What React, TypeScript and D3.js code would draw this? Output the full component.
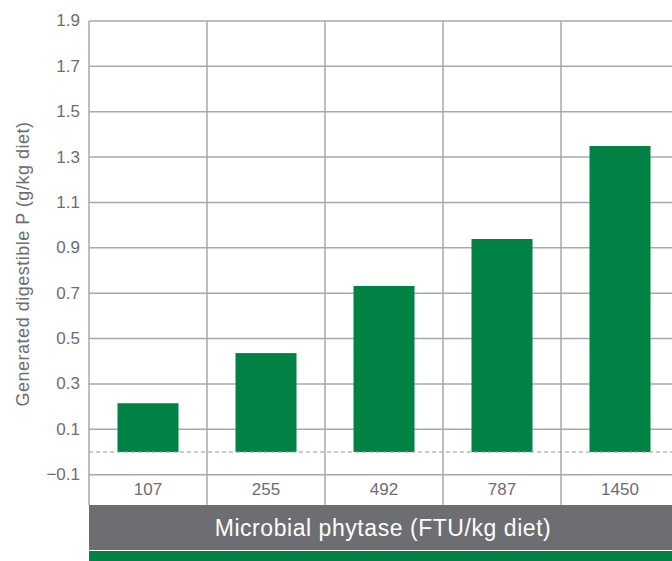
import React from "react";
import * as d3 from "d3";

const categories = ["107", "255", "492", "787", "1450"];
const values = [0.215, 0.436, 0.732, 0.939, 1.349];
const yTicks = [-0.1, 0.1, 0.3, 0.5, 0.7, 0.9, 1.1, 1.3, 1.5, 1.7, 1.9];
const yLabel = "Generated digestible P (g/kg diet)";
const xLabel = "Microbial phytase (FTU/kg diet)";

const W = 672;
const H = 561;
const left = 89;
const top = 21;
const bottom = 474.7;
const cell = 118;
const labelRowBottom = 505;
const grayBottom = 550;

const GREEN = "#008244";
const GRID = "#a7a9ac";
const TEXT = "#6d6e71";
const FONT = "Liberation Sans, Arial, Helvetica, sans-serif";

export default function App() {
  const y = d3.scaleLinear().domain([-0.1, 1.9]).range([bottom, top]);
  const p = 1 - 61 / cell;
  const x = d3
    .scaleBand<string>()
    .domain(categories)
    .range([left, left + cell * categories.length])
    .paddingInner(p)
    .paddingOuter(p / 2);
  const step = x.step();
  const boundaries = d3.range(categories.length + 1).map((i) => left + i * step);
  const fmt = (v: number) => (v < 0 ? "\u2212" + Math.abs(v).toFixed(1) : v.toFixed(1));

  return (
    <svg
      width={W}
      height={H}
      style={{ position: "absolute", left: 0, top: 0, background: "#fff" }}
      fontFamily={FONT}
    >
      {yTicks.map((t) => (
        <line
          key={"h" + t}
          x1={left}
          x2={W + 20}
          y1={y(t)}
          y2={y(t)}
          stroke={GRID}
          strokeWidth={1.5}
        />
      ))}
      {boundaries.map((bx, i) => (
        <line
          key={"v" + i}
          x1={bx}
          x2={bx}
          y1={top}
          y2={labelRowBottom}
          stroke={GRID}
          strokeWidth={1.5}
        />
      ))}
      {categories.map((c, i) => (
        <rect
          key={"b" + c}
          x={x(c)}
          width={x.bandwidth()}
          y={y(values[i])}
          height={y(0) - y(values[i])}
          fill={GREEN}
        />
      ))}
      <line
        x1={left}
        x2={W + 20}
        y1={y(0)}
        y2={y(0)}
        stroke="#999"
        strokeWidth={1}
        strokeDasharray="4,3"
      />
      {yTicks.map((t) => (
        <text
          key={"yt" + t}
          x={80}
          y={y(t)}
          dy="0.32em"
          textAnchor="end"
          fontSize={17}
          fill={TEXT}
        >
          {fmt(t)}
        </text>
      ))}
      {categories.map((c) => (
        <text
          key={"xt" + c}
          x={(x(c) as number) + x.bandwidth() / 2}
          y={(bottom + labelRowBottom) / 2}
          dy="0.33em"
          textAnchor="middle"
          fontSize={17}
          fill={TEXT}
        >
          {c}
        </text>
      ))}
      <rect x={left} y={labelRowBottom} width={W - left} height={grayBottom - labelRowBottom} fill="#6d6e71" />
      <text
        x={383}
        y={(labelRowBottom + grayBottom) / 2}
        dy="0.35em"
        textAnchor="middle"
        fontSize={23}
        letterSpacing={0.55}
        fill="#fff"
      >
        {xLabel}
      </text>
      <rect x={left} y={grayBottom + 1} width={W - left} height={H - grayBottom - 1} fill={GREEN} />
      <text
        transform={`translate(23, 264) rotate(-90)`}
        dy="0.35em"
        textAnchor="middle"
        fontSize={18}
        letterSpacing={0.5}
        fill={TEXT}
      >
        {yLabel}
      </text>
    </svg>
  );
}
